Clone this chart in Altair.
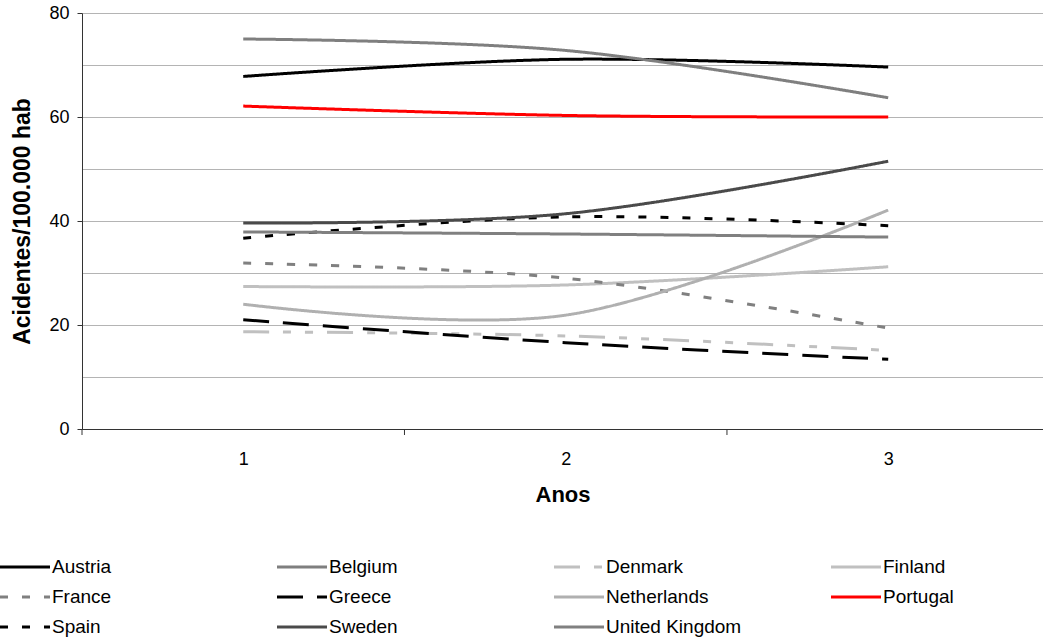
import altair as alt
import pandas as pd

years = [1, 2, 3]
countries = ["Austria", "Belgium", "Denmark", "Finland", "France", "Greece",
             "Netherlands", "Portugal", "Spain", "Sweden", "United Kingdom"]
austria = [67.8, 71.1, 69.6]
belgium = [75.0, 72.8, 63.7]
denmark = [18.7, 17.9, 15.1]
finland = [27.4, 27.7, 31.2]
france = [31.9, 29.0, 19.4]
greece = [21.0, 16.6, 13.4]
netherlands = [24.0, 21.9, 42.1]
portugal = [62.1, 60.3, 60.0]
spain = [36.7, 40.8, 39.1]
sweden = [39.6, 41.4, 51.5]
uk = [37.9, 37.5, 36.9]
series = [austria, belgium, denmark, finland, france, greece,
          netherlands, portugal, spain, sweden, uk]

colors = ["#000000", "#7f7f7f", "#c0c0c0", "#c0c0c0", "#808080", "#000000",
          "#b0b0b0", "#ff0000", "#000000", "#4a4a4a", "#808080"]
dashes = [[1, 0], [1, 0], [26, 14, 8, 14, 8, 14], [1, 0], [8, 14], [26, 14],
          [1, 0], [1, 0], [8, 14], [1, 0], [1, 0]]

x_labels = [1, 2, 3]
x_tick_marks = [0.5, 1.5, 2.5]
y_ticks = [0, 10, 20, 30, 40, 50, 60, 70, 80]

rows = []
for c, vals in zip(countries, series):
    for yr, v in zip(years, vals):
        rows.append({"Ano": yr, "Valor": v, "País": c})
df = pd.DataFrame(rows)

leg_df = pd.DataFrame({
    "País": countries,
    "col": [i % 4 for i in range(len(countries))],
    "row": [i // 4 for i in range(len(countries))],
})
ticks_df = pd.DataFrame({"Ano": x_tick_marks})

FONT = "Liberation Sans"
W, H = 961, 416
xscale = alt.Scale(domain=[0.5, 3.48], nice=False, zero=False)
yscale = alt.Scale(domain=[0, 80], nice=False)
cscale = alt.Scale(domain=countries, range=colors)
dscale = alt.Scale(domain=countries, range=dashes)

lines = alt.Chart(df).mark_line(interpolate="cardinal", strokeWidth=3, strokeCap="butt").encode(
    x=alt.X("Ano:Q", scale=xscale,
            axis=alt.Axis(values=x_labels, title="Anos", grid=False, format="d",
                          ticks=False, labelPadding=21, titlePadding=16,
                          titleFontSize=22)),
    y=alt.Y("Valor:Q", scale=yscale,
            axis=alt.Axis(values=y_ticks, title="Acidentes/100.000 hab", grid=True,
                          labelOverlap=False,
                          labelExpr="datum.value % 20 == 0 ? datum.label : ''",
                          tickOpacity={"condition": {"test": "datum.value % 20 == 0", "value": 1}, "value": 0},
                          tickSize=5, labelPadding=8, titlePadding=14,
                          titleFontSize=23)),
    color=alt.Color("País:N", scale=cscale, legend=None),
    strokeDash=alt.StrokeDash("País:N", scale=dscale, legend=None),
)

xticks = alt.Chart(ticks_df).mark_rule(color="#333333", strokeWidth=1).encode(
    x=alt.X("Ano:Q", scale=xscale),
    y=alt.value(H),
    y2=alt.value(H + 6),
)

main = alt.layer(lines, xticks)

leg_x = alt.Scale(domain=[0, 4], range=[-82, -82 + 4 * 277])
leg_y = alt.Scale(domain=[0, 2], range=[554, 614])

leg_sym = alt.Chart(leg_df).mark_point(shape="stroke", size=2500, strokeWidth=3,
                                       filled=False, opacity=1, xOffset=25).encode(
    x=alt.X("col:Q", scale=leg_x, axis=None),
    y=alt.Y("row:Q", scale=leg_y, axis=None),
    color=alt.Color("País:N", scale=cscale, legend=None),
    strokeDash=alt.StrokeDash("País:N", scale=dscale, legend=None),
)
leg_txt = alt.Chart(leg_df).mark_text(align="left", baseline="middle", dx=52,
                                      font=FONT, fontSize=19, color="black").encode(
    x=alt.X("col:Q", scale=leg_x, axis=None),
    y=alt.Y("row:Q", scale=leg_y, axis=None),
    text="País:N",
)
leg = alt.layer(leg_sym, leg_txt)

chart = alt.layer(main, leg).resolve_scale(x="independent", y="independent").properties(
    width=W, height=H,
    autosize=alt.AutoSizeParams(type="none"),
    padding={"left": 82, "top": 13, "right": 0, "bottom": 209},
    background="white",
).configure_view(stroke=None).configure_axis(
    labelFont=FONT, labelFontSize=18, labelColor="black",
    titleFont=FONT, titleFontWeight="bold", titleColor="black",
    domainColor="#333333", tickColor="#333333", gridColor="#b4b4b4",
    domainWidth=1, tickWidth=1, gridWidth=1,
)

chart.save("out.html", embed_options={"renderer": "svg", "actions": False})
